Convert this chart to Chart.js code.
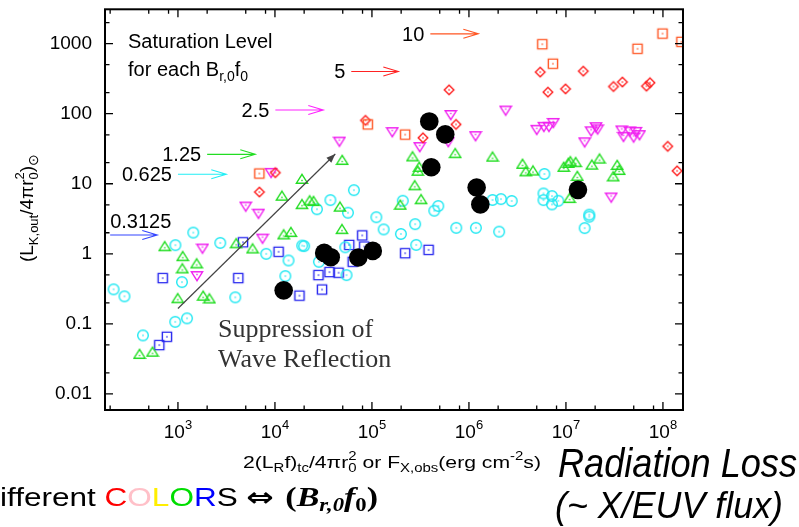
<!DOCTYPE html>
<html>
<head>
<meta charset="utf-8">
<script src="https://cdn.jsdelivr.net/npm/chart.js@4.4.1/dist/chart.umd.min.js"></script>
<style>
  html, body { margin: 0; padding: 0; background: #fff; }
  #chart { display: block; }
</style>
</head>
<body>
<canvas id="chart" width="799" height="527"></canvas>
<script>
// axis ticks
var xTicks = [1e3, 1e4, 1e5, 1e6, 1e7, 1e8];
var xTickExp = ['3', '4', '5', '6', '7', '8'];
var yTicks = [0.01, 0.1, 1, 10, 100, 1000];
var yTickLabels = ['0.01', '0.1', '1', '10', '100', '1000'];

// model runs, one array per B_r,0 f_0 level: [flux, L_K,out]
var sat10 = [[6900, 14.0], [90600, 70.3], [220000, 50.3], [5.70e6, 980], [7.34e6, 517],
  [5.47e7, 844], [9.9e7, 1390], [1.55e8, 1060]];
var sat5 = [[10100, 14.4], [6920, 7.62], [85700, 80.3], [624000, 219], [736000, 70.3],
  [336000, 45.3], [5.43e6, 392], [6.52e6, 203], [9.91e6, 226], [1.51e7, 405], [3.09e7, 244],
  [3.82e7, 283], [6.76e7, 247], [7.35e7, 277], [1.12e8, 34.2], [1.40e8, 15.3]];
var sat2_5 = [[5000, 4.73], [6760, 3.74], [9120, 14.3], [46200, 40.0], [7450, 1.65], [1790, 1.19],
  [1570, 0.482], [162000, 54.6], [311000, 33.4], [649000, 95.8], [612000, 39.4], [1.17e6, 47.9],
  [2.39e6, 111], [5.0e6, 58.9], [5.92e6, 65.0], [6.67e6, 65.0], [7.40e6, 73.8], [1.56e7, 39.1],
  [1.82e7, 56.1], [2.04e7, 64.3], [2.12e7, 59.8], [3.76e7, 57.7], [3.92e7, 46.8], [4.55e7, 55.9],
  [4.98e7, 45.9], [5.26e7, 55.1], [5.73e7, 49.5], [2.93e7, 6.37]];
var sat1_25 = [[402, 0.0371], [547, 0.040], [731, 1.28], [1120, 0.925], [1560, 0.728], [1110, 0.618],
  [995, 0.232], [1820, 0.252], [2110, 0.230], [3990, 1.41], [5880, 1.19], [12300, 1.89], [14600, 2.04],
  [11800, 6.73], [19000, 11.7], [19000, 5.10], [22800, 5.77], [25000, 5.66], [46800, 4.70],
  [49400, 21.8], [49100, 2.25], [262000, 24.5], [307000, 17.4], [297000, 15.3], [276000, 9.49],
  [321000, 6.0], [196000, 5.01], [722000, 27.3], [1.75e6, 24.3], [3.57e6, 19.2], [3.85e6, 15.0],
  [4.57e6, 15.4], [9.49e6, 17.4], [1.06e7, 19.8], [1.11e7, 20.9], [1.26e7, 20.3], [1.31e7, 12.9],
  [1.85e7, 18.7], [2.22e7, 22.8], [3.38e7, 18.5], [3.54e7, 15.7], [3.07e7, 12.7], [1.09e7, 6.24]];
var sat0_625 = [[217, 0.311], [281, 0.247], [436, 0.0685], [938, 0.107], [1240, 0.120], [942, 1.33],
  [1100, 0.395], [1440, 2.01], [2730, 1.43], [3900, 0.239], [8130, 1.0], [12800, 0.481], [13800, 0.803],
  [19100, 1.31], [20000, 1.29], [27100, 4.33], [37300, 5.85], [28400, 0.77], [54700, 0.497],
  [53100, 1.24], [56600, 3.86], [65200, 8.11], [111000, 3.33], [132000, 2.23], [199000, 1.92],
  [208000, 5.71], [279000, 2.65], [286000, 1.34], [483000, 4.81], [439000, 4.12], [740000, 2.35],
  [1.18e6, 2.35], [2.05e6, 2.07], [1.75e6, 5.87], [2.14e6, 6.04], [2.76e6, 5.68], [6.0e6, 13.8],
  [5.87e6, 7.26], [7.18e6, 6.67], [5.87e6, 5.85], [7.18e6, 5.07], [8.34e6, 5.71], [1.74e7, 3.62],
  [1.74e7, 3.39], [1.56e7, 2.33]];
var sat0_3125 = [[642, 0.0498], [770, 0.0654], [697, 0.450], [4680, 1.46], [4190, 0.450], [10900, 1.07],
  [17900, 0.253], [28100, 0.497], [30600, 0.309], [36500, 0.548], [45300, 0.537], [58300, 1.34],
  [79400, 1.83], [63400, 0.77], [83300, 1.27], [220000, 1.02], [384000, 1.14]];
// observed stars
var observed = [[12300, 0.301], [32200, 1.03], [37600, 0.895], [72300, 0.886], [102000, 1.10],
  [390000, 77.5], [570000, 50.6], [409000, 17.2], [1.20e6, 8.83], [1.31e6, 5.07], [1.33e7, 8.19]];

// saturation level arrows (data units)
var satArrows = [
  { label: '10', x0: 4.0e5, x1: 1.25e6, y: 1380, color: '#ff5522' },
  { label: '5', x0: 61200, x1: 187000, y: 401, color: '#ff2222' },
  { label: '2.5', x0: 10100, x1: 31500, y: 113, color: '#ff22ff' },
  { label: '1.25', x0: 2000, x1: 6270, y: 26.3, color: '#22dd22' },
  { label: '0.625', x0: 1000, x1: 3150, y: 13.7, color: '#22eef5' },
  { label: '0.3125', x0: 200, x1: 612, y: 1.86, color: '#3344ff', above: true }
];
var trendArrow = { x0: 1000, y0: 0.166, x1: 41900, y1: 26.6 };

var SANS = "'Liberation Sans', Arial, Helvetica, sans-serif";
var SERIF = "'Liberation Serif', 'Times New Roman', serif";

function makeMarker(shape, color) {
  var size = 14, m = 7;
  var c = document.createElement('canvas');
  c.width = size; c.height = size;
  var g = c.getContext('2d');
  g.strokeStyle = color; g.fillStyle = color; g.lineWidth = 1.4;
  g.beginPath();
  if (shape === 'square') g.rect(m - 4.6, m - 4.6, 9.2, 9.2);
  else if (shape === 'circle') g.arc(m, m, 5.3, 0, Math.PI * 2);
  else if (shape === 'up') { g.moveTo(m, m - 4.6); g.lineTo(m + 5.6, m + 4.2); g.lineTo(m - 5.6, m + 4.2); g.closePath(); }
  else if (shape === 'down') { g.moveTo(m - 5.6, m - 4.2); g.lineTo(m + 5.6, m - 4.2); g.lineTo(m, m + 4.6); g.closePath(); }
  else if (shape === 'diamond') { g.moveTo(m, m - 4.8); g.lineTo(m + 4.8, m); g.lineTo(m, m + 4.8); g.lineTo(m - 4.8, m); g.closePath(); }
  g.stroke();
  var dy = shape === 'up' ? 1.5 : (shape === 'down' ? -1.5 : 0);
  g.fillRect(m - 0.7, m - 0.7 + dy, 1.4, 1.4);
  return c;
}

function pts(arr) {
  return arr.map(function (p) { return { x: p[0], y: p[1] }; });
}

function series(arr, shape, color) {
  return { data: pts(arr), pointStyle: makeMarker(shape, color), pointRadius: 6, showLine: false };
}

// draw a run of text pieces with sub/superscripts
function drawRich(ctx, parts, x, y, align, fitWidth) {
  var total = 0;
  parts.forEach(function (p) {
    ctx.font = (p.st || '') + ' ' + p.s + 'px ' + (p.f || SANS);
    p.w = ctx.measureText(p.t).width;
    if (p.adv !== false) total += p.w;
  });
  var sx = fitWidth ? fitWidth / total : 1;
  ctx.save();
  ctx.translate(x, y);
  ctx.scale(sx, 1);
  var cx = align === 'center' ? -total / 2 : (align === 'right' ? -total : 0);
  ctx.textBaseline = 'alphabetic';
  ctx.textAlign = 'left';
  parts.forEach(function (p) {
    ctx.font = (p.st || '') + ' ' + p.s + 'px ' + (p.f || SANS);
    ctx.fillStyle = p.c || '#000';
    ctx.fillText(p.t, cx, p.dy || 0);
    if (p.adv !== false) cx += p.w;
  });
  ctx.restore();
  return total * sx;
}

function arrowLine(ctx, xa, xb, y, color) {
  ctx.strokeStyle = color;
  ctx.lineWidth = 1.1;
  ctx.beginPath();
  ctx.moveTo(xa, y); ctx.lineTo(xb, y);
  ctx.moveTo(xb - 15, y - 4.5); ctx.lineTo(xb, y); ctx.lineTo(xb - 15, y + 4.5);
  ctx.stroke();
}

var framePlugin = {
  id: 'frame',
  afterDraw: function (chart) {
    var ctx = chart.ctx, a = chart.chartArea;
    var xs = chart.scales.x, ys = chart.scales.y;
    ctx.save();

    // minor and major ticks pointing inward on all four sides
    ctx.strokeStyle = '#000';
    ctx.lineWidth = 1.3;
    ctx.beginPath();
    var d, v, p, len;
    for (d = 2; d <= 8; d++) {
      [1, 2, 5, 8].forEach(function (m) {
        v = m * Math.pow(10, d);
        if (v < xs.min || v > xs.max) return;
        p = xs.getPixelForValue(v);
        len = m === 1 ? 8 : 4.5;
        ctx.moveTo(p, a.bottom); ctx.lineTo(p, a.bottom - len);
        ctx.moveTo(p, a.top); ctx.lineTo(p, a.top + len);
      });
    }
    for (d = -3; d <= 3; d++) {
      [1, 2, 5].forEach(function (m) {
        v = m * Math.pow(10, d);
        if (v < ys.min || v > ys.max) return;
        p = ys.getPixelForValue(v);
        len = m === 1 ? 8 : 4.5;
        ctx.moveTo(a.left, p); ctx.lineTo(a.left + len, p);
        ctx.moveTo(a.right, p); ctx.lineTo(a.right - len, p);
      });
    }
    ctx.stroke();
    ctx.lineWidth = 2;
    ctx.strokeRect(a.left, a.top, a.right - a.left, a.bottom - a.top);

    // x tick labels 10^n
    xTicks.forEach(function (t, i) {
      var px = xs.getPixelForValue(t);
      drawRich(ctx, [
        { t: '10', s: 19 },
        { t: xTickExp[i], s: 13, dy: -9 }
      ], px, 438, 'center');
    });

    // y axis title
    ctx.save();
    ctx.translate(33, 208);
    ctx.rotate(-Math.PI / 2);
    drawRich(ctx, [
      { t: '(L', s: 19 },
      { t: 'K,out', s: 13, dy: 5 },
      { t: '/4\u03c0r', s: 19 },
      { t: '0', s: 13, dy: 5, adv: false },
      { t: '2', s: 13, dy: -9 },
      { t: ')', s: 19 },
      { t: '\u2299', s: 14, dy: 5 }
    ], 0, 0, 'center');
    ctx.restore();

    // x axis title
    drawRich(ctx, [
      { t: '2(L', s: 17 }, { t: 'R', s: 12, dy: 4 }, { t: 'f)', s: 17 }, { t: 'tc', s: 12, dy: 4 },
      { t: '/4\u03c0r', s: 17 }, { t: '0', s: 12, dy: 4, adv: false }, { t: '2', s: 12, dy: -8 },
      { t: ' or F', s: 17 }, { t: 'X,obs', s: 12, dy: 4 }, { t: '(erg cm', s: 17 },
      { t: '-2', s: 12, dy: -8 }, { t: 's)', s: 17 }
    ], 243, 468, 'left', 298);

    // saturation level legend
    drawRich(ctx, [{ t: 'Saturation Level', s: 20 }], 128, 48, 'left');
    drawRich(ctx, [
      { t: 'for each B', s: 20 }, { t: 'r,0', s: 14, dy: 5 }, { t: 'f', s: 20 }, { t: '0', s: 14, dy: 5 }
    ], 128, 76, 'left');

    satArrows.forEach(function (s) {
      var xa = xs.getPixelForValue(s.x0), xb = xs.getPixelForValue(s.x1), y = ys.getPixelForValue(s.y);
      arrowLine(ctx, xa, xb, y, s.color);
      if (s.above) drawRich(ctx, [{ t: s.label, s: 20 }], xa, y - 7, 'left');
      else drawRich(ctx, [{ t: s.label, s: 20 }], xa - 6, y + 7, 'right');
    });

    // suppression trend arrow
    var tx0 = xs.getPixelForValue(trendArrow.x0), ty0 = ys.getPixelForValue(trendArrow.y0);
    var tx1 = xs.getPixelForValue(trendArrow.x1), ty1 = ys.getPixelForValue(trendArrow.y1);
    var ang = Math.atan2(ty1 - ty0, tx1 - tx0);
    ctx.strokeStyle = '#444'; ctx.fillStyle = '#444'; ctx.lineWidth = 1.2;
    ctx.beginPath(); ctx.moveTo(tx0, ty0); ctx.lineTo(tx1, ty1); ctx.stroke();
    ctx.beginPath();
    ctx.moveTo(tx1, ty1);
    ctx.lineTo(tx1 - 9 * Math.cos(ang) + 3.5 * Math.sin(ang), ty1 - 9 * Math.sin(ang) - 3.5 * Math.cos(ang));
    ctx.lineTo(tx1 - 9 * Math.cos(ang) - 3.5 * Math.sin(ang), ty1 - 9 * Math.sin(ang) + 3.5 * Math.cos(ang));
    ctx.closePath(); ctx.fill();

    drawRich(ctx, [{ t: 'Suppression of', s: 26, f: SERIF, c: '#333' }], 218, 337, 'left');
    drawRich(ctx, [{ t: 'Wave Reflection', s: 26, f: SERIF, c: '#333' }], 218, 367, 'left');

    // bottom notes
    drawRich(ctx, [{ t: 'Radiation Loss', s: 40, st: 'italic' }], 558, 477, 'left', 239);
    drawRich(ctx, [{ t: '(~ X/EUV flux)', s: 36, st: 'italic' }], 555, 518, 'left', 228);
    drawRich(ctx, [
      { t: 'ifferent ', s: 25 },
      { t: 'C', s: 25, c: '#ff0000' }, { t: 'O', s: 25, c: '#ffc0c8' }, { t: 'L', s: 25, c: '#ffee00' },
      { t: 'O', s: 25, c: '#00dd00' }, { t: 'R', s: 25, c: '#0000ff' }, { t: 'S ', s: 25 },
      { t: '\u21d4 ', s: 26, st: 'bold', f: "'DejaVu Sans', sans-serif" },
      { t: '(', s: 27, st: 'bold', f: SERIF }, { t: 'B', s: 27, st: 'italic bold', f: SERIF },
      { t: 'r,0', s: 18, st: 'italic bold', f: SERIF, dy: 5 }, { t: 'f', s: 27, st: 'italic bold', f: SERIF },
      { t: '0', s: 18, st: 'bold', f: SERIF, dy: 5 }, { t: ')', s: 27, st: 'bold', f: SERIF }
    ], 0, 506, 'left', 378);

    ctx.restore();
  }
};

var ctx = document.getElementById('chart').getContext('2d');
var chart = new Chart(ctx, {
  type: 'scatter',
  data: {
    datasets: [
      { data: pts(observed), pointStyle: 'circle', pointRadius: 9.3, backgroundColor: '#000', borderColor: '#000', borderWidth: 0 },
      series(sat10, 'square', '#ff5522'),
      series(sat5, 'diamond', '#ff2020'),
      series(sat2_5, 'down', '#f020f0'),
      series(sat1_25, 'up', '#22dd22'),
      series(sat0_625, 'circle', '#22e8f2'),
      series(sat0_3125, 'square', '#2424ee')
    ]
  },
  options: {
    responsive: false,
    animation: false,
    events: [],
    layout: { padding: { top: 7, right: 116, left: 0, bottom: 0 } },
    plugins: { legend: { display: false }, tooltip: { enabled: false } },
    scales: {
      x: {
        type: 'logarithmic',
        min: 177,
        max: 1.61e8,
        afterBuildTicks: function (s) { s.ticks = xTicks.map(function (v) { return { value: v }; }); },
        afterFit: function (s) { s.height = 117; s.paddingLeft = 0; s.paddingRight = 0; },
        ticks: { display: false },
        grid: { display: false, drawTicks: false },
        border: { display: false }
      },
      y: {
        type: 'logarithmic',
        min: 0.0059,
        max: 3090,
        afterBuildTicks: function (s) { s.ticks = yTicks.map(function (v) { return { value: v }; }); },
        afterFit: function (s) { s.width = 105; s.paddingTop = 0; s.paddingBottom = 0; },
        ticks: {
          autoSkip: false,
          padding: 13,
          color: '#000',
          font: { family: SANS, size: 19 },
          callback: function (v) { return yTickLabels[yTicks.indexOf(v)]; }
        },
        grid: { display: false, drawTicks: false },
        border: { display: false }
      }
    }
  },
  plugins: [framePlugin]
});
</script>
</body>
</html>
